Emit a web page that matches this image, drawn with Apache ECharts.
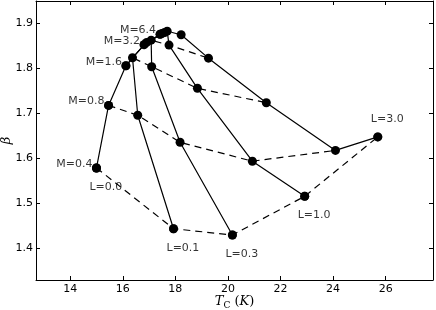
<!DOCTYPE html>
<html>
<head>
<meta charset="utf-8">
<script src="https://cdn.jsdelivr.net/npm/echarts@6/dist/echarts.min.js"></script>
<style>html,body{margin:0;padding:0;background:#fff}#c{width:436px;height:310px}</style>
</head>
<body>
<div id="c"></div>
<script>
// Parameter values
const Lvalues = ['0.0', '0.1', '0.3', '1.0', '3.0'];
const Mvalues = ['0.4', '0.8', '1.6', '3.2', '6.4'];
// T_C (K) for each L (index over M = 0.4, 0.8, 1.6, 3.2, 6.4)
const tcL00 = [15.00, 15.46, 16.12, 16.81, 17.42];
const tcL01 = [17.93, 16.57, 16.37, 16.91, 17.50];
const tcL03 = [20.17, 18.18, 17.10, 17.08, 17.59];
const tcL10 = [22.92, 20.93, 18.84, 17.76, 17.69];
const tcL30 = [25.70, 24.09, 21.46, 19.26, 18.22];
// beta for each L
const bL00 = [1.579, 1.718, 1.806, 1.853, 1.876];
const bL01 = [1.444, 1.696, 1.824, 1.858, 1.878];
const bL03 = [1.430, 1.636, 1.804, 1.863, 1.880];
const bL10 = [1.516, 1.594, 1.756, 1.852, 1.883];
const bL30 = [1.648, 1.618, 1.724, 1.823, 1.875];
// tick labels
const xTicks = [14, 16, 18, 20, 22, 24, 26];
const yTicks = [1.4, 1.5, 1.6, 1.7, 1.8, 1.9];

const tcs = [tcL00, tcL01, tcL03, tcL10, tcL30];
const bs = [bL00, bL01, bL03, bL10, bL30];

const series = [];
// constant-M dashed curves (across L)
Mvalues.forEach((m, j) => {
  series.push({
    type: 'line', name: 'M=' + m, xAxisIndex: 0, yAxisIndex: 0,
    data: Lvalues.map((l, i) => [tcs[i][j], bs[i][j]]),
    showSymbol: false, symbol: 'none', silent: true,
    lineStyle: {color: '#000', width: 1.2, type: [7, 5]}, z: 2
  });
});
// constant-L solid curves (across M)
Lvalues.forEach((l, i) => {
  series.push({
    type: 'line', name: 'L=' + l, xAxisIndex: 0, yAxisIndex: 0,
    data: Mvalues.map((m, j) => [tcs[i][j], bs[i][j]]),
    symbol: 'circle', symbolSize: 9, showSymbol: true,
    itemStyle: {color: '#000'},
    lineStyle: {color: '#000', width: 1.2}, z: 3
  });
});
// M labels on L=0.0 curve
series.push({
  type: 'scatter', xAxisIndex: 0, yAxisIndex: 0, symbolSize: 9,
  itemStyle: {color: '#000'}, z: 4,
  data: Mvalues.map((m, j) => ({value: [tcs[0][j], bs[0][j]], name: 'M=' + m})),
  label: {show: true, formatter: p => p.name, position: 'inside', align: 'right', verticalAlign: 'middle',
          offset: [-4, -4], color: '#000', fontSize: 11, fontFamily: 'DejaVu Sans'}
});
// L labels at M=0.4 end
series.push({
  type: 'scatter', xAxisIndex: 0, yAxisIndex: 0, symbolSize: 9,
  itemStyle: {color: '#000'}, z: 4,
  data: Lvalues.map((l, i) => ({value: [tcs[i][0], bs[i][0]], name: 'L=' + l,
    label: {offset: i === 4 ? [-7, -18] : [-7, 19]}})),
  label: {show: true, formatter: p => p.name, position: 'inside', align: 'left', verticalAlign: 'middle',
          color: '#000', fontSize: 11, fontFamily: 'DejaVu Sans'}
});

const axisCommon = {
  type: 'value', splitLine: {show: false},
  axisLine: {show: true, onZero: false, lineStyle: {color: '#000', width: 1}},
};
const chart = echarts.init(document.getElementById('c'), null, {renderer: 'canvas'});
chart.setOption({
  animation: false,
  backgroundColor: '#fff',
  grid: {left: 36, right: 3, top: 1, bottom: 30, containLabel: false, outerBoundsMode: 'none'},
  xAxis: [
    Object.assign({}, axisCommon, {
      min: 12.7, max: 27.8, position: 'bottom',
      axisTick: {show: true, inside: true, length: 4, customValues: xTicks, lineStyle: {color: '#000'}},
      axisLabel: {show: true, customValues: xTicks, color: '#000', fontSize: 11, fontFamily: 'DejaVu Sans', margin: 4},
      name: '{i|T}{s|C}{n| (}{i|K}{n|)}', nameLocation: 'middle', nameGap: 14, nameMoveOverlap: false,
      nameTextStyle: {color: '#000', verticalAlign: 'top', rich: {
        i: {fontFamily: 'DejaVu Serif', fontStyle: 'italic', fontSize: 13, color: '#000'},
        s: {fontFamily: 'DejaVu Serif', fontSize: 9, color: '#000', padding: [7, 0, 0, 0]},
        n: {fontFamily: 'DejaVu Serif', fontSize: 13, color: '#000'}
      }}
    }),
    Object.assign({}, axisCommon, {
      min: 12.7, max: 27.8, position: 'top',
      axisTick: {show: true, inside: true, length: 4, customValues: xTicks, lineStyle: {color: '#000'}},
      axisLabel: {show: false}
    })
  ],
  yAxis: [
    Object.assign({}, axisCommon, {
      min: 1.33, max: 1.95, position: 'left',
      axisTick: {show: true, inside: true, length: 4, customValues: yTicks, lineStyle: {color: '#000'}},
      axisLabel: {show: true, customValues: yTicks, color: '#000', fontSize: 11, fontFamily: 'DejaVu Sans', margin: 3,
                  formatter: v => v.toFixed(1)},
      name: 'β', nameLocation: 'middle', nameGap: 23, nameRotate: 90, nameMoveOverlap: false,
      nameTextStyle: {color: '#000', fontFamily: 'DejaVu Serif', fontStyle: 'italic', fontSize: 13}
    }),
    Object.assign({}, axisCommon, {
      min: 1.33, max: 1.95, position: 'right',
      axisTick: {show: true, inside: true, length: 4, customValues: yTicks, lineStyle: {color: '#000'}},
      axisLabel: {show: false}
    })
  ],
  series: series
});
</script>
</body>
</html>
